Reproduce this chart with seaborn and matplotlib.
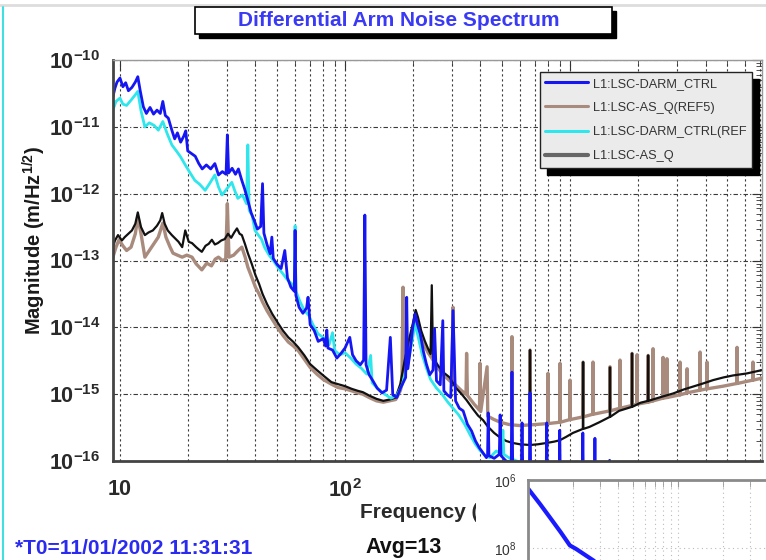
import matplotlib
matplotlib.use("Agg")
import matplotlib.pyplot as plt
import numpy as np
import pandas as pd
import seaborn as sns
from matplotlib.lines import Line2D
from matplotlib.patches import Rectangle
from matplotlib.ticker import FuncFormatter, LogLocator, NullFormatter

W, H = 766, 560

# spectra: (frequency [Hz], log10 magnitude [m/rtHz])
darm_ctrl = [
    (9.3, -10.55), (9.5, -10.42), (9.7, -10.33), (10.0, -10.27), (10.3, -10.40), (10.6, -10.34),
    (10.9, -10.46), (11.3, -10.41), (11.7, -10.33), (12.0, -10.25), (12.3, -10.46), (12.7, -10.70),
    (13.1, -10.80), (13.6, -10.71), (14.1, -10.81), (14.6, -10.75), (15.1, -10.80), (15.5, -10.62),
    (15.9, -10.83), (16.4, -10.87), (17.0, -11.05), (17.5, -11.18), (18.0, -11.09), (18.6, -11.23),
    (19.2, -11.14), (19.6, -11.06), (20.0, -11.36), (20.8, -11.40), (21.6, -11.44), (22.4, -11.55),
    (23.2, -11.63), (24.2, -11.57), (25.3, -11.63), (26.4, -11.55), (27.4, -11.72), (28.5, -11.67),
    (29.6, -11.71), (30.0, -11.12), (30.4, -11.69), (31.5, -11.62), (32.6, -11.71), (33.6, -11.63),
    (34.7, -11.79), (35.8, -11.93), (37.0, -12.10), (38.3, -12.29), (39.5, -12.40), (40.8, -12.53),
    (42.2, -12.49), (43.0, -11.85), (43.6, -12.59), (45.0, -12.76), (46.5, -12.90), (47.3, -12.65),
    (48.0, -12.97), (50.0, -13.06), (52.0, -13.12), (54.0, -12.85), (55.5, -13.26), (57.5, -13.40),
    (59.5, -13.46), (60.0, -12.55), (60.5, -13.52), (62.5, -13.70), (65.0, -13.79), (67.5, -13.71),
    (68.5, -13.55), (70.0, -13.96), (73.0, -14.05), (76.0, -14.21), (80.0, -14.17), (82.0, -14.28),
    (83.0, -14.04), (84.0, -14.31), (88.0, -14.34), (92.0, -14.46), (96.0, -14.39), (100.0, -14.31),
    (105.0, -14.15), (108.0, -14.41), (112.0, -14.50), (117.0, -14.56), (121.0, -14.49), (122.5, -12.32),
    (124.0, -14.56), (128.0, -14.71), (133.0, -14.80), (139.0, -14.91), (146.0, -14.98), (153.0, -14.94),
    (159.0, -14.15), (163.0, -15.01), (170.0, -15.05), (177.0, -14.90), (186.0, -14.75), (188.0, -13.55),
    (190.0, -14.62), (194.0, -14.40), (200.0, -14.00), (205.0, -13.80), (210.0, -13.96), (216.0, -14.10),
    (223.0, -14.36), (230.0, -14.55), (238.0, -14.71), (246.0, -14.64), (250.0, -14.02), (255.0, -14.80),
    (265.0, -14.86), (272.0, -13.90), (275.0, -14.95), (285.0, -15.01), (295.0, -15.05), (302.0, -13.75),
    (310.0, -15.10), (322.0, -15.21), (335.0, -15.25), (350.0, -15.45), (365.0, -15.55), (380.0, -15.70),
    (395.0, -15.80), (411.0, -15.88), (425.0, -15.95), (430.0, -15.92), (433.0, -15.28), (436.0, -15.92),
    (460.0, -15.96), (485.0, -15.90), (489.0, -15.31), (493.0, -15.92), (520.0, -16.00), (548.0, -16.02),
    (552.0, -14.67), (556.0, -16.02), (590.0, -16.05), (608.0, -16.06), (612.0, -15.43), (616.0, -16.06),
    (660.0, -16.08), (664.0, -14.98), (668.0, -16.08), (730.0, -16.10), (784.0, -16.10), (788.0, -15.43),
    (792.0, -16.10), (896.0, -16.12), (900.0, -15.54), (904.0, -16.12), (1135.0, -16.15), (1140.0, -15.58),
    (1145.0, -16.15), (1285.0, -16.16), (1290.0, -15.66), (1295.0, -16.16), (1495.0, -16.20), (1500.0, -15.99),
    (1505.0, -16.20), (7130.0, -16.30),
]

darm_ctrl_ref = [
    (9.3, -10.75), (9.6, -10.62), (10.0, -10.57), (10.3, -10.66), (10.7, -10.68), (11.2, -10.60),
    (11.7, -10.52), (12.0, -10.47), (12.4, -10.76), (12.9, -11.00), (13.5, -10.94), (14.2, -10.98),
    (14.8, -11.05), (15.5, -10.92), (16.2, -11.10), (17.0, -11.27), (17.8, -11.36), (18.6, -11.45),
    (19.5, -11.57), (20.5, -11.69), (21.5, -11.80), (22.6, -11.86), (23.9, -11.95), (25.0, -11.85),
    (26.4, -11.72), (27.4, -11.90), (28.4, -12.02), (29.5, -11.95), (31.4, -11.83), (32.4, -11.96),
    (33.4, -12.07), (35.0, -12.02), (36.5, -12.15), (37.0, -11.27), (37.5, -12.25), (38.6, -12.32),
    (39.8, -12.55), (41.0, -12.61), (42.5, -12.68), (44.0, -12.81), (46.0, -12.92), (48.0, -13.00),
    (50.5, -13.11), (53.0, -13.20), (55.5, -13.29), (58.0, -13.35), (59.5, -13.41), (60.0, -12.48),
    (60.5, -13.46), (63.0, -13.61), (66.0, -13.75), (69.0, -13.82), (72.0, -13.96), (76.0, -14.10),
    (80.0, -14.15), (85.0, -14.26), (88.0, -14.08), (90.0, -14.35), (95.0, -14.41), (100.0, -14.38),
    (106.0, -14.46), (112.0, -14.55), (118.0, -14.61), (125.0, -14.70), (130.0, -14.42), (132.0, -14.83),
    (140.0, -14.92), (150.0, -15.00), (160.0, -15.06), (170.0, -15.02), (180.0, -14.85), (190.0, -14.55),
    (200.0, -14.15), (205.0, -13.95), (212.0, -14.16), (220.0, -14.40), (230.0, -14.61), (240.0, -14.78),
    (255.0, -14.91), (270.0, -15.00), (285.0, -15.11), (300.0, -15.20), (320.0, -15.31), (340.0, -15.45),
    (360.0, -15.61), (380.0, -15.75), (400.0, -15.85), (420.0, -15.92), (440.0, -15.95), (470.0, -15.85),
    (498.0, -15.90), (503.0, -15.54), (508.0, -15.90), (540.0, -15.96), (580.0, -16.00), (650.0, -16.05),
    (720.0, -16.10), (900.0, -16.20),
]

as_q = [
    (9.3, -12.80), (9.5, -12.70), (9.8, -12.62), (10.2, -12.70), (10.5, -12.65), (10.9, -12.60),
    (11.3, -12.55), (11.7, -12.45), (12.0, -12.28), (12.4, -12.50), (12.9, -12.62), (13.4, -12.58),
    (14.0, -12.55), (14.6, -12.48), (15.1, -12.40), (15.4, -12.29), (15.8, -12.45), (16.3, -12.55),
    (17.0, -12.62), (17.6, -12.67), (18.2, -12.72), (18.9, -12.80), (19.5, -12.55), (20.2, -12.72),
    (20.9, -12.74), (21.8, -12.80), (22.5, -12.84), (23.1, -12.87), (24.0, -12.78), (24.8, -12.75),
    (25.6, -12.69), (26.4, -12.76), (27.2, -12.74), (28.2, -12.70), (29.2, -12.68), (30.2, -12.60),
    (31.2, -12.66), (32.2, -12.58), (33.1, -12.52), (34.0, -12.60), (34.8, -12.62), (35.9, -12.75),
    (37.0, -12.89), (38.5, -13.05), (40.0, -13.22), (41.5, -13.35), (43.0, -13.50), (45.0, -13.65),
    (47.5, -13.80), (50.0, -13.92), (53.0, -14.05), (56.0, -14.15), (59.0, -14.22), (62.0, -14.30),
    (66.0, -14.42), (70.0, -14.55), (75.0, -14.64), (80.0, -14.72), (87.0, -14.82), (93.0, -14.85),
    (100.0, -14.88), (107.0, -14.92), (114.0, -14.95), (120.0, -14.97), (128.0, -15.02), (138.0, -15.07),
    (148.0, -15.10), (158.0, -15.08), (168.0, -15.05), (176.0, -14.85), (184.0, -14.50), (192.0, -14.20),
    (200.0, -13.95), (206.0, -13.74), (211.0, -13.85), (218.0, -14.05), (226.0, -14.20), (234.0, -14.32),
    (240.0, -14.40), (243.0, -13.37), (246.0, -14.45), (260.0, -14.58), (275.0, -14.68), (292.0, -14.75),
    (310.0, -14.90), (330.0, -15.00), (347.0, -15.09), (370.0, -15.22), (390.0, -15.32), (411.0, -15.39),
    (430.0, -15.48), (460.0, -15.58), (485.0, -15.64), (520.0, -15.70), (556.0, -15.73), (600.0, -15.75),
    (661.0, -15.76), (664.0, -14.34), (667.0, -15.76), (720.0, -15.75), (788.0, -15.73), (850.0, -15.71),
    (900.0, -15.69), (960.0, -15.64), (1030.0, -15.58), (1140.0, -15.52), (1143.0, -14.52), (1146.0, -15.52),
    (1220.0, -15.49), (1350.0, -15.42), (1502.0, -15.34), (1505.0, -14.60), (1508.0, -15.34), (1650.0, -15.25),
    (1882.0, -15.19), (1886.0, -14.39), (1890.0, -15.19), (2050.0, -15.13), (2219.0, -15.10), (2224.0, -14.42),
    (2229.0, -15.10), (2550.0, -15.04), (2870.0, -14.99), (3200.0, -14.93), (3500.0, -14.89), (3900.0, -14.84),
    (4320.0, -14.79), (4800.0, -14.75), (5300.0, -14.72), (6100.0, -14.69), (7130.0, -14.64),
]

as_q_ref5 = [
    (9.3, -12.95), (9.6, -12.80), (9.9, -12.69), (10.3, -12.78), (10.7, -12.85), (11.2, -12.80),
    (11.7, -12.60), (12.0, -12.35), (12.4, -12.60), (12.9, -12.95), (13.5, -12.85), (14.2, -12.74),
    (14.8, -12.65), (15.5, -12.44), (16.0, -12.65), (16.7, -12.80), (17.2, -12.89), (18.0, -12.92),
    (18.9, -12.95), (19.8, -12.92), (20.9, -12.95), (21.8, -13.05), (23.1, -13.14), (24.3, -13.04),
    (25.5, -13.08), (26.5, -12.98), (27.4, -12.95), (28.5, -13.00), (29.5, -12.98), (30.0, -12.15),
    (30.5, -12.95), (32.0, -12.92), (33.5, -12.85), (34.8, -12.80), (36.0, -12.95), (37.0, -13.10),
    (38.5, -13.25), (40.0, -13.40), (41.5, -13.50), (43.0, -13.62), (45.0, -13.75), (47.5, -13.88),
    (50.0, -14.00), (53.0, -14.12), (56.0, -14.22), (59.0, -14.28), (62.0, -14.35), (66.0, -14.48),
    (70.0, -14.60), (75.0, -14.70), (80.0, -14.78), (87.0, -14.85), (93.0, -14.90), (100.0, -14.92),
    (107.0, -14.95), (114.0, -14.98), (120.0, -15.00), (128.0, -15.05), (138.0, -15.10), (148.0, -15.12),
    (158.0, -15.10), (168.0, -15.08), (176.0, -14.95), (179.0, -14.85), (181.0, -13.40), (183.0, -14.70),
    (192.0, -14.30), (200.0, -14.05), (206.0, -13.85), (211.0, -13.95), (218.0, -14.15), (226.0, -14.28),
    (234.0, -14.38), (242.0, -14.45), (260.0, -14.62), (275.0, -14.72), (292.0, -14.80), (299.0, -14.82),
    (302.0, -13.70), (305.0, -14.84), (330.0, -14.95), (345.0, -15.00), (347.0, -14.39), (350.0, -15.02),
    (375.0, -15.15), (396.0, -15.24), (398.0, -14.54), (401.0, -15.26), (428.0, -14.59), (431.0, -15.33),
    (460.0, -15.38), (490.0, -15.42), (530.0, -15.45), (550.0, -15.46), (552.0, -14.14), (554.0, -15.46),
    (600.0, -15.47), (662.0, -15.46), (664.0, -14.34), (666.0, -15.46), (730.0, -15.45), (796.0, -15.44),
    (798.0, -14.69), (800.0, -15.44), (901.0, -15.42), (903.0, -14.54), (905.0, -15.42), (998.0, -15.38),
    (1000.0, -14.79), (1002.0, -15.38), (1141.0, -15.34), (1143.0, -14.52), (1145.0, -15.34), (1263.0, -15.30),
    (1265.0, -14.52), (1268.0, -15.30), (1502.0, -15.25), (1505.0, -14.59), (1508.0, -15.25), (1665.0, -15.21),
    (1668.0, -14.49), (1671.0, -15.21), (1882.0, -15.17), (1886.0, -14.39), (1890.0, -15.17), (1982.0, -15.15),
    (1986.0, -14.41), (1990.0, -15.15), (2219.0, -15.12), (2224.0, -14.42), (2229.0, -15.12), (2333.0, -15.10),
    (2338.0, -14.32), (2343.0, -15.10), (2585.0, -15.06), (2590.0, -14.45), (2595.0, -15.06), (2692.0, -15.05),
    (2697.0, -14.47), (2702.0, -15.05), (3077.0, -15.01), (3083.0, -14.52), (3089.0, -15.01), (3306.0, -14.98),
    (3313.0, -14.62), (3320.0, -14.98), (3776.0, -14.94), (3784.0, -14.37), (3792.0, -14.94), (4056.0, -14.92),
    (4064.0, -14.52), (4072.0, -14.92), (4800.0, -14.88), (5513.0, -14.84), (5524.0, -14.30), (5535.0, -14.84),
    (6487.0, -14.79), (6500.0, -14.52), (6513.0, -14.79), (7130.0, -14.76),
]

# small plot peeking in at the bottom right corner
inset_freq = [1.0, 1.2, 1.4, 1.65, 1.9, 2.1, 2.4, 2.7, 3.0]
inset_logmag = [6.25, 6.70, 7.10, 7.53, 7.92, 8.03, 8.20, 8.35, 8.49]

channels = ["L1:LSC-DARM_CTRL", "L1:LSC-AS_Q(REF5)", "L1:LSC-DARM_CTRL(REF", "L1:LSC-AS_Q"]
series = {
    "L1:LSC-DARM_CTRL": darm_ctrl,
    "L1:LSC-AS_Q(REF5)": as_q_ref5,
    "L1:LSC-DARM_CTRL(REF": darm_ctrl_ref,
    "L1:LSC-AS_Q": as_q,
}
colors = {
    "L1:LSC-DARM_CTRL": "#1616f2",
    "L1:LSC-AS_Q(REF5)": "#a98b7d",
    "L1:LSC-DARM_CTRL(REF": "#2ee6ec",
    "L1:LSC-AS_Q": "#111111",
}
widths = {
    "L1:LSC-DARM_CTRL": 2.0,
    "L1:LSC-AS_Q(REF5)": 2.4,
    "L1:LSC-DARM_CTRL(REF": 2.0,
    "L1:LSC-AS_Q": 1.6,
}
draw_order = ["L1:LSC-AS_Q(REF5)", "L1:LSC-AS_Q", "L1:LSC-DARM_CTRL(REF", "L1:LSC-DARM_CTRL"]

frames = []
for name in channels:
    f, lm = zip(*series[name])
    frames.append(pd.DataFrame({"freq": f, "mag": 10.0 ** np.array(lm), "channel": name}))
spec = pd.concat(frames, ignore_index=True)

sns.set_style("white")
plt.rcParams["font.family"] = ["Liberation Sans", "DejaVu Sans"]
plt.rcParams["mathtext.fontset"] = "custom"
plt.rcParams["mathtext.rm"] = "Liberation Sans"
plt.rcParams["mathtext.bf"] = "Liberation Sans:bold"
plt.rcParams["mathtext.it"] = "Liberation Sans:italic"


def fig_xy(x, y):
    # pixel position (origin top left) -> figure fraction
    return x / W, 1 - y / H


fig = plt.figure(figsize=(W / 100, H / 100), dpi=100)
ax = fig.add_axes([113 / W, 1 - 461 / H, (762 - 113) / W, (461 - 60) / H])

for name in draw_order:
    sns.lineplot(data=spec[spec["channel"] == name], x="freq", y="mag", color=colors[name],
                 lw=widths[name], sort=False, estimator=None, ax=ax, legend=False)

ax.set_xscale("log")
ax.set_yscale("log")
ax.set_xlim(9.31, 7130)
ax.set_ylim(1e-16, 1e-10)
ax.set_xlabel("")
ax.set_ylabel("")

ax.set_yticks([1e-16, 1e-15, 1e-14, 1e-13, 1e-12, 1e-11, 1e-10])
ax.set_xticks([10, 100, 1000])
ax.yaxis.set_minor_locator(LogLocator(base=10, subs=np.arange(2, 10), numticks=40))
ax.yaxis.set_minor_formatter(NullFormatter())
ax.xaxis.set_minor_locator(LogLocator(base=10, subs=np.arange(2, 10), numticks=40))
ax.xaxis.set_minor_formatter(NullFormatter())


def pow_label(v, pos):
    e = int(round(np.log10(v)))
    if e == 1:
        return r"$\mathbf{10}$"
    return r"$\mathbf{10^{%d}}$" % e


ax.xaxis.set_major_formatter(FuncFormatter(pow_label))
ax.yaxis.set_major_formatter(FuncFormatter(pow_label))

ax.grid(False)
ax.xaxis.grid(True, which="both", color="#3a3a3a", lw=0.8, ls=(0, (2, 2.5)))
ax.yaxis.grid(True, which="major", color="#3a3a3a", lw=0.8, ls=(0, (4, 2, 1, 2)))
ax.tick_params(which="both", direction="in", top=True, right=True, color="#333333",
               labelcolor="#2a2a2a", labelsize=15.5)
ax.tick_params(which="major", length=7)
ax.tick_params(which="minor", length=4)
ax.tick_params(axis="y", pad=9)
ax.tick_params(axis="x", pad=13)
for side in ["left", "bottom"]:
    ax.spines[side].set_color("#444444")
    ax.spines[side].set_linewidth(2)
for side in ["top", "right"]:
    ax.spines[side].set_color("#999999")
    ax.spines[side].set_linewidth(1)

# legend with a hard drop shadow
handles = [Line2D([], [], color=colors[n], lw=2.2) for n in channels]
handles[3] = Line2D([], [], color="#666666", lw=3)
leg = fig.legend(handles, channels, loc="upper right", bbox_to_anchor=fig_xy(752, 72),
                 frameon=True, fancybox=False, facecolor="#ebebeb", edgecolor="#222222",
                 framealpha=1, fontsize=9.2, handlelength=3.3, labelspacing=0.95,
                 borderpad=0.45, handletextpad=0.4, borderaxespad=0,
                 shadow={"ox": 5, "oy": -5, "color": "black", "alpha": 1})
for t in leg.get_texts():
    t.set_color("#333333")

# title box with shadow
fig.add_artist(Rectangle(fig_xy(199, 38), 417 / W, 27 / H, transform=fig.transFigure,
                         facecolor="black", edgecolor="black", zorder=4))
fig.add_artist(Rectangle(fig_xy(195, 34), 417 / W, 27 / H, transform=fig.transFigure,
                         facecolor="white", edgecolor="black", lw=1.2, zorder=5))
fig.text(*fig_xy(399, 21), "Differential Arm Noise Spectrum", ha="center", va="center",
         fontsize=15, fontweight="bold", color="#3a3af5", zorder=6)

fig.text(*fig_xy(34, 240), r"Magnitude (m/Hz$^{\mathbf{1/2}}$)", rotation=90, ha="center",
         va="center", fontsize=14.5, fontweight="bold", color="#1a1a1a")
fig.text(*fig_xy(360, 513), "Frequency (Hz)", ha="left", va="center", fontsize=15,
         fontweight="bold", color="#2a2a2a", zorder=3)
fig.text(*fig_xy(15, 548), "*T0=11/01/2002 11:31:31", ha="left", va="center", fontsize=15,
         fontweight="bold", color="#2a2af0")
fig.text(*fig_xy(365, 548), "Avg=13", ha="left", va="center", fontsize=15.5,
         fontweight="bold", color="#111111")

# window decorations
fig.add_artist(Line2D([0, 1], [1 - 5 / H, 1 - 5 / H], transform=fig.transFigure,
                      color="#dddddd", lw=2))
fig.add_artist(Line2D([3 / W, 3 / W], [0, 1 - 7 / H], transform=fig.transFigure,
                      color="#40e0e0", lw=1.5))

# second plot window, mostly outside the screenshot; it hides the end of the x label
fig.add_artist(Rectangle((476 / W, 0), 290 / W, 95 / H, transform=fig.transFigure,
                         facecolor="white", edgecolor="none", zorder=7))
ax2 = fig.add_axes([528 / W, 0, (W - 528) / W, 80 / H], zorder=8)
ax2.set_facecolor("white")
inset = pd.DataFrame({"freq": inset_freq, "mag": 10.0 ** np.array(inset_logmag)})
sns.lineplot(data=inset, x="freq", y="mag", color="#1a1aff", lw=3, sort=False,
             estimator=None, ax=ax2, legend=False)
ax2.set_xscale("log")
ax2.set_yscale("log")
ax2.set_xlim(1, 10 ** ((W - 528) / 150))
ax2.set_ylim(10 ** 8.35, 1e6)
ax2.set_xlabel("")
ax2.set_ylabel("")
ax2.set_yticks([1e6, 1e8])
ax2.yaxis.set_minor_locator(LogLocator(base=10, subs=[], numticks=10))
ax2.yaxis.set_minor_formatter(NullFormatter())
ax2.yaxis.set_major_formatter(FuncFormatter(lambda v, p: r"$10^{%d}$" % round(np.log10(v))))
ax2.xaxis.set_minor_locator(LogLocator(base=10, subs=np.arange(2, 10), numticks=40))
ax2.xaxis.set_minor_formatter(NullFormatter())
ax2.grid(False)
ax2.xaxis.grid(True, which="both", color="#bbbbbb", lw=0.8, ls=(0, (1, 3)))
ax2.yaxis.grid(True, which="major", color="#bbbbbb", lw=0.8, ls=(0, (1, 3)))
ax2.tick_params(axis="x", which="both", bottom=False, top=True, labelbottom=False,
                direction="in", length=5, color="#999999")
ax2.tick_params(axis="y", which="both", direction="in", length=5, color="#999999",
                labelsize=10, labelcolor="#333333", pad=8)
for side in ["right", "bottom"]:
    ax2.spines[side].set_visible(False)
for side in ["left", "top"]:
    ax2.spines[side].set_color("#8a8a8a")
    ax2.spines[side].set_linewidth(2)

fig.savefig("out.png", dpi=100)
